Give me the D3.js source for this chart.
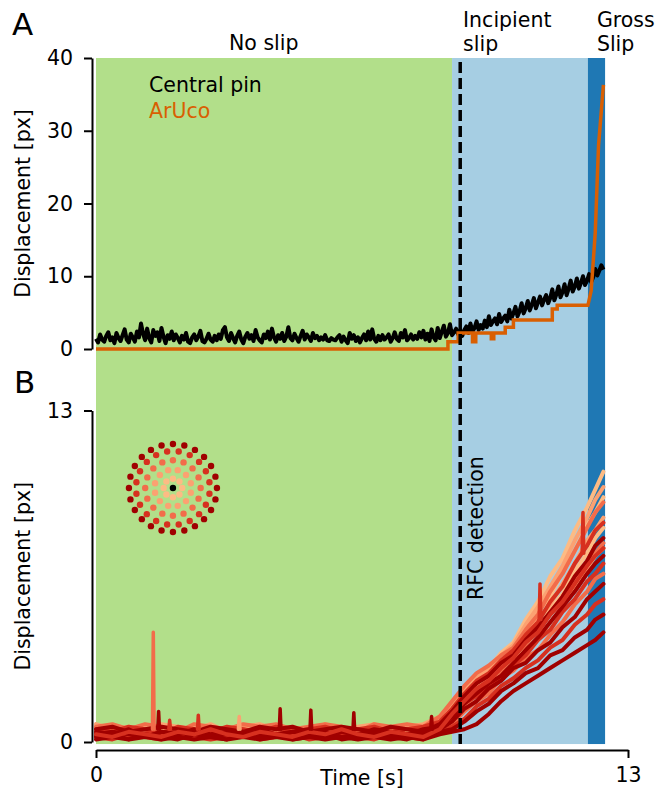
<!DOCTYPE html>
<html>
<head>
<meta charset="utf-8">
<script src="https://cdn.jsdelivr.net/npm/d3@7"></script>
<style>
  body { margin: 0; background: #fff; }
  text { font-family: "DejaVu Sans", sans-serif; }
</style>
</head>
<body>
<script>
// ---- data ----
// slip phases (seconds)
var phaseStart = [0, 8.7, 12.02];
var phaseEnd = [8.7, 12.02, 12.44];
var phaseLabel = [["No slip"], ["Incipient", "slip"], ["Gross", "Slip"]];
var phaseLabelT = [4.1, 8.97, 12.24];
var rfcTime = 8.9;

// panel A: central pin, sampled every 0.05 s
var pinStep = 0.05;
var centralPin = [
  1.4, 0.9, 2.0, 1.3, 1.0, 1.8, 2.3, 1.2, 1.6, 0.8, 2.2, 1.5, 1.1, 1.9, 2.7, 1.3, 0.9, 2.1, 1.6, 1.0,
  2.4, 1.6, 3.5, 2.1, 1.2, 2.8, 1.5, 0.9, 2.6, 1.8, 2.3, 1.1, 2.9, 1.7, 0.8, 1.9, 1.4, 2.4, 1.2, 2.0,
  1.5, 0.9, 1.8, 1.3, 2.2, 1.0, 0.8, 1.6, 2.0, 1.2, 1.7, 2.5, 1.1, 0.9, 1.4, 2.1, 1.3, 1.0, 1.8, 1.2,
  2.0, 1.4, 2.6, 3.0, 1.6, 1.1, 2.2, 1.5, 0.9, 1.8, 2.4, 1.3, 0.8, 1.7, 2.2, 1.4, 1.9, 1.1, 2.6, 1.6,
  1.2, 0.9, 2.0, 1.5, 2.4, 1.3, 2.8, 1.6, 1.0, 1.9, 1.4, 2.2, 1.1, 1.7, 3.0, 1.5, 1.2, 2.1, 1.5, 1.0,
  1.8, 2.5, 1.3, 2.0, 1.6, 1.1, 2.2, 1.5, 1.8, 1.2, 1.6, 1.3, 1.9, 1.2, 1.1, 1.5, 1.3, 1.2, 1.6, 1.9,
  1.0, 1.7, 1.2, 0.8, 2.2, 1.4, 1.9, 1.1, 1.6, 0.9, 1.5, 2.0, 1.2, 2.4, 1.3, 2.7, 1.4, 1.0, 1.8, 1.2,
  1.9, 1.3, 1.6, 2.0, 1.0, 1.5, 2.3, 1.4, 1.1, 2.2, 1.6, 2.6, 1.2, 1.5, 2.0, 1.3, 1.8, 1.4, 2.3, 1.6,
  2.5, 1.3, 2.1, 1.1, 2.7, 1.6, 1.2, 2.9, 1.5, 2.4, 3.2, 1.7, 2.2, 3.4, 1.9, 2.3, 2.8, 2.0, 2.6, 1.8,
  2.6, 3.1, 2.2, 3.5, 2.4, 2.9, 3.8, 2.6, 3.3, 2.8, 3.9, 3.0, 4.5, 3.3, 3.8, 4.2, 3.4, 4.8, 3.7, 4.2,
  4.6, 3.8, 5.4, 4.2, 4.9, 5.8, 4.5, 5.2, 6.3, 4.9, 5.6, 6.6, 5.3, 6.1, 7.0, 5.6, 6.4, 7.2, 6.0, 6.8,
  7.4, 6.3, 7.0, 8.2, 6.7, 7.5, 8.6, 7.1, 7.8, 8.9, 7.4, 8.3, 9.4, 7.9, 8.6, 9.7, 8.3, 9.1, 10.0, 8.8,
  9.4, 10.3, 9.2, 9.9, 11.0, 10.1, 10.8, 11.5, 10.9
];
// panel A: ArUco marker (time, displacement)
var arucoT = [0, 8.6, 8.6, 8.85, 8.85, 9.2, 9.2, 9.28, 9.28, 9.66, 9.66, 9.72, 9.72,
  10.0, 10.0, 10.2, 10.2, 11.15, 11.15, 11.27, 11.27, 12.02, 12.1, 12.2, 12.28, 12.4];
var arucoV = [0, 0, 1.0, 1.0, 2.2, 2.2, 1.0, 1.0, 2.2, 2.2, 1.4, 1.4, 2.2,
  2.2, 3.0, 3.0, 4.0, 4.0, 5.5, 5.5, 6.0, 6.0, 8.0, 16.0, 28.0, 36.3];

// panel B: pin traces, baseline + slip part
var tBase = [0, 0.4, 0.8, 1.2, 1.6, 2.0, 2.4, 2.8, 3.2, 3.6, 4.0, 4.4, 4.8, 5.2, 5.6, 6.0, 6.4, 6.8, 7.2, 7.6, 8.0, 8.4];
var tRise = [8.7, 9.0, 9.3, 9.6, 9.9, 10.2, 10.5, 10.8, 11.1, 11.4, 11.7, 12.0, 12.2, 12.4];
var traceRing = [0, 0, 0, 1, 1, 1, 2, 2, 2, 3, 3, 3, 4, 4, 4, 4, 4, 3];
var traceBase = [
  [.5, .3, .6, .4, .2, .5, .3, .6, .4, .3, .5, .2, .4, .6, .3, .5, .4, .2, .5, .3, .6, .9],
  [.3, .6, .2, .5, .4, .2, .6, .3, .5, .2, .4, .6, .3, .2, .5, .4, .2, .6, .3, .5, .4, .7],
  [.6, .4, .3, .6, .2, .4, .5, .2, .6, .4, .2, .5, .3, .6, .2, .4, .5, .3, .2, .6, .3, .6],
  [.7, .5, .6, .4, .7, .6, .5, .7, .4, .6, .7, .5, .6, .4, .7, .5, .6, .7, .5, .6, .7, 1.0],
  [.4, .2, .5, .3, .6, .3, .2, .5, .4, .3, .6, .4, .2, .5, .3, .6, .3, .4, .6, .2, .5, .8],
  [.2, .4, .3, .2, .5, .4, .3, .2, .5, .3, .2, .4, .5, .3, .2, .4, .3, .5, .2, .4, .3, .5],
  [.6, .7, .5, .7, .6, .4, .7, .6, .5, .7, .6, .7, .5, .6, .7, .6, .4, .7, .6, .7, .6, 1.0],
  [.3, .5, .4, .2, .3, .5, .4, .3, .2, .5, .3, .4, .5, .2, .4, .3, .5, .2, .4, .3, .5, .6],
  [.2, .3, .2, .4, .3, .2, .4, .3, .2, .3, .4, .2, .3, .4, .2, .3, .2, .4, .3, .2, .4, .5],
  [.5, .4, .6, .5, .3, .6, .5, .4, .6, .5, .4, .6, .4, .5, .6, .4, .5, .6, .4, .5, .6, .8],
  [.3, .4, .2, .3, .4, .3, .2, .4, .3, .2, .4, .3, .4, .2, .3, .4, .2, .3, .4, .3, .2, .6],
  [.2, .1, .3, .2, .1, .3, .2, .1, .2, .3, .1, .2, .3, .1, .2, .3, .2, .1, .3, .2, .1, .4],
  [.5, .6, .4, .5, .6, .5, .4, .6, .5, .4, .6, .5, .6, .4, .5, .6, .5, .4, .6, .5, .4, .7],
  [.3, .4, .3, .2, .4, .3, .4, .2, .3, .4, .3, .2, .4, .3, .4, .2, .3, .4, .3, .2, .4, .5],
  [.2, .3, .1, .3, .2, .1, .3, .2, .1, .3, .2, .3, .1, .2, .3, .1, .2, .3, .2, .1, .3, .4],
  [.1, .2, .1, .2, .1, .2, .1, .2, .1, .2, .1, .2, .1, .2, .1, .2, .1, .2, .1, .2, .1, .3],
  [.4, .3, .5, .2, .4, .3, .5, .3, .4, .2, .5, .3, .4, .5, .2, .4, .3, .5, .4, .3, .5, .6],
  [.3, .2, .4, .3, .2, .4, .3, .5, .3, .2, .4, .3, .2, .4, .3, .5, .3, .2, .4, .3, .2, .5]
];
var traceRise = [
  [1.4, 2.0, 2.6, 2.9, 3.5, 3.9, 4.8, 5.5, 6.5, 7.2, 8.3, 9.2, 9.9, 10.6],
  [1.1, 1.8, 2.2, 2.8, 3.0, 3.7, 4.2, 5.1, 5.7, 6.7, 7.5, 8.5, 9.0, 9.6],
  [0.9, 1.5, 2.0, 2.3, 2.9, 3.2, 3.8, 4.4, 5.2, 5.8, 6.7, 7.4, 8.0, 8.4],
  [1.5, 2.1, 2.5, 2.9, 3.4, 3.8, 4.6, 5.3, 6.1, 6.9, 7.9, 8.8, 9.5, 10.0],
  [1.2, 1.9, 2.3, 2.7, 3.1, 3.6, 4.0, 4.8, 5.4, 6.2, 7.0, 7.9, 8.3, 8.8],
  [0.8, 1.3, 1.9, 2.2, 2.7, 3.0, 3.6, 4.0, 4.7, 5.3, 6.1, 6.8, 7.3, 7.6],
  [1.6, 2.2, 2.7, 3.0, 3.4, 3.7, 4.4, 5.0, 5.9, 6.6, 7.5, 8.4, 9.0, 9.4],
  [1.0, 1.7, 2.0, 2.5, 2.8, 3.4, 3.8, 4.5, 5.0, 5.7, 6.3, 7.1, 7.4, 7.8],
  [0.7, 1.2, 1.6, 1.9, 2.5, 2.8, 3.3, 3.6, 4.2, 4.7, 5.4, 5.9, 6.4, 6.6],
  [1.3, 1.9, 2.4, 2.7, 3.2, 3.6, 4.2, 4.7, 5.5, 6.1, 7.0, 7.7, 8.3, 8.6],
  [0.9, 1.5, 1.8, 2.2, 2.5, 3.0, 3.4, 4.0, 4.4, 5.1, 5.6, 6.3, 6.6, 7.0],
  [0.6, 0.9, 1.4, 1.7, 2.2, 2.5, 2.9, 3.2, 3.7, 4.0, 4.6, 5.0, 5.4, 5.6],
  [1.2, 1.8, 2.3, 2.6, 3.1, 3.4, 4.0, 4.5, 5.1, 5.7, 6.5, 7.1, 7.7, 8.0],
  [0.8, 1.3, 1.6, 2.1, 2.4, 2.9, 3.1, 3.6, 3.9, 4.5, 4.9, 5.6, 5.9, 6.2],
  [0.5, 0.8, 1.2, 1.5, 2.0, 2.3, 2.7, 2.9, 3.4, 3.6, 4.1, 4.4, 4.8, 5.0],
  [0.4, 0.5, 0.7, 1.1, 1.6, 2.0, 2.3, 2.6, 2.9, 3.2, 3.5, 3.8, 4.0, 4.3],
  [1.0, 1.5, 1.9, 2.3, 2.6, 3.1, 3.6, 4.1, 4.7, 5.3, 5.9, 6.6, 7.0, 7.3],
  [1.1, 1.6, 2.1, 2.4, 2.9, 3.3, 3.9, 4.3, 5.0, 5.5, 6.2, 6.9, 7.3, 7.6]
];
// single-frame spikes: time, base, peak, ring
var spikeT = [1.4, 1.53, 1.8, 2.5, 3.5, 4.5, 5.25, 6.3, 8.2, 10.85, 11.9];
var spikeBase = [0.5, 0.5, 0.5, 0.5, 0.5, 0.5, 0.5, 0.5, 0.5, 4.8, 7.4];
var spikePeak = [4.3, 1.2, 0.85, 1.05, 1.0, 1.3, 1.25, 1.15, 1.0, 6.2, 9.0];
var spikeRing = [2, 4, 3, 3, 1, 4, 4, 4, 4, 3, 3];

// sensor pin layout: rings (relative radius, pin count)
var pinRingR = [0.21, 0.42, 0.63, 0.84, 1.0];
var pinRingN = [8, 12, 16, 20, 24];

var ringColor = ["#fdbb84", "#fca171", "#f26c4a", "#d7301f", "#a00000"];

// ---- layout ----
var width = 671, height = 793;
var svg = d3.select("body").append("svg")
  .attr("width", width)
  .attr("height", height);

var x = d3.scaleLinear().domain([0, 13]).range([96, 628]);
var yA = d3.scaleLinear().domain([0, 40]).range([349, 58]);
var yB = d3.scaleLinear().domain([0, 13]).range([742, 410.5]);
var bgBottom = yB(-0.08);
var fontSize = "20.5px";

// phase backgrounds span both panels
var phaseColor = ["#b2df8a", "#a6cee3", "#1f78b4"];
svg.selectAll("rect.phase")
  .data(phaseStart)
  .enter().append("rect")
  .attr("class", "phase")
  .attr("x", function (d) { return x(d); })
  .attr("y", yA(40))
  .attr("width", function (d, i) { return x(phaseEnd[i]) - x(d); })
  .attr("height", bgBottom - yA(40))
  .attr("fill", function (d, i) { return phaseColor[i]; });

// phase labels
phaseLabel.forEach(function (lines, i) {
  var t = svg.append("text")
    .attr("x", x(phaseLabelT[i]))
    .attr("text-anchor", i === 0 ? "middle" : "start")
    .style("font-size", fontSize);
  lines.forEach(function (s, j) {
    t.append("tspan")
      .attr("x", x(phaseLabelT[i]))
      .attr("y", lines.length === 1 ? 50 : 27 + j * 24)
      .text(s);
  });
});

// panel B traces
var lineB = d3.line()
  .x(function (d) { return x(d[0]); })
  .y(function (d) { return yB(d[1]); });

traceBase.forEach(function (base, i) {
  var pts = tBase.map(function (t, k) { return [t, base[k]]; })
    .concat(tRise.map(function (t, k) { return [t, traceRise[i][k]]; }));
  svg.append("path")
    .attr("d", lineB(pts))
    .attr("fill", "none")
    .attr("stroke", ringColor[traceRing[i]])
    .attr("stroke-width", 4)
    .attr("stroke-linejoin", "round")
    .attr("stroke-linecap", "round");
});

spikeT.forEach(function (t, i) {
  svg.append("path")
    .attr("d", lineB([[t - 0.02, spikeBase[i]], [t, spikePeak[i]], [t + 0.02, spikeBase[i]]]))
    .attr("fill", "none")
    .attr("stroke", ringColor[spikeRing[i]])
    .attr("stroke-width", 3.5)
    .attr("stroke-linejoin", "round")
    .attr("stroke-linecap", "round");
});

// panel A lines
var lineA = d3.line()
  .x(function (d) { return x(d[0]); })
  .y(function (d) { return yA(d[1]); });

svg.append("path")
  .attr("d", lineA(centralPin.map(function (v, k) { return [k * pinStep, v]; })))
  .attr("fill", "none")
  .attr("stroke", "#000")
  .attr("stroke-width", 4)
  .attr("stroke-linejoin", "round");

svg.append("path")
  .attr("d", lineA(arucoT.map(function (t, k) { return [t, arucoV[k]]; })))
  .attr("fill", "none")
  .attr("stroke", "#d95f02")
  .attr("stroke-width", 3.5);

// RFC detection line
svg.append("line")
  .attr("x1", x(rfcTime)).attr("x2", x(rfcTime))
  .attr("y1", yA(40) + 4).attr("y2", bgBottom)
  .attr("stroke", "#000")
  .attr("stroke-width", 3.5)
  .attr("stroke-dasharray", "11,5");

svg.append("text")
  .attr("transform", "translate(" + (x(rfcTime) + 23) + "," + 600 + ") rotate(-90)")
  .style("font-size", fontSize)
  .text("RFC detection");

// legend
svg.append("text").attr("x", 149).attr("y", 92)
  .style("font-size", fontSize).attr("fill", "#000").text("Central pin");
svg.append("text").attr("x", 149).attr("y", 118)
  .style("font-size", fontSize).attr("fill", "#d95f02").text("ArUco");

// pin layout inset
var insetCx = x(1.88), insetCy = yB(9.96);
var insetR = d3.scaleLinear().domain([0, 1]).range([0, 44]);
var inset = svg.append("g").attr("transform", "translate(" + insetCx + "," + insetCy + ")");
pinRingR.forEach(function (r, i) {
  var n = pinRingN[i];
  inset.selectAll(null)
    .data(d3.range(n))
    .enter().append("circle")
    .attr("cx", function (k) { return insetR(r) * Math.cos(2 * Math.PI * (k + 0.5 * (i % 2)) / n - Math.PI / 2); })
    .attr("cy", function (k) { return insetR(r) * Math.sin(2 * Math.PI * (k + 0.5 * (i % 2)) / n - Math.PI / 2); })
    .attr("r", 3.2)
    .attr("fill", ringColor[i]);
});
inset.append("circle").attr("r", 3.2).attr("fill", "#000");

// axes
function styleAxis(g) {
  g.selectAll("path.domain").attr("stroke-width", 2);
  g.selectAll(".tick line").attr("stroke-width", 2);
  g.selectAll(".tick text").style("font-size", fontSize).style("font-family", "DejaVu Sans");
}

svg.append("g")
  .attr("transform", "translate(92,0)")
  .call(d3.axisLeft(yA).tickValues([0, 10, 20, 30, 40]).tickSize(8).tickSizeOuter(0).tickPadding(11))
  .call(styleAxis);

svg.append("g")
  .attr("transform", "translate(92,0)")
  .call(d3.axisLeft(yB).tickValues([0, 13]).tickSize(8).tickSizeOuter(0).tickPadding(11))
  .call(styleAxis);

svg.append("g")
  .attr("transform", "translate(0,750)")
  .call(d3.axisBottom(x).tickValues([0, 13]).tickSize(8).tickSizeOuter(0).tickPadding(9))
  .call(styleAxis);

// axis labels
svg.append("text")
  .attr("transform", "translate(30," + (yA(20)) + ") rotate(-90)")
  .attr("text-anchor", "middle")
  .style("font-size", fontSize)
  .text("Displacement [px]");

svg.append("text")
  .attr("transform", "translate(30," + (yB(6.5)) + ") rotate(-90)")
  .attr("text-anchor", "middle")
  .style("font-size", fontSize)
  .text("Displacement [px]");

svg.append("text")
  .attr("x", x(6.5)).attr("y", 785)
  .attr("text-anchor", "middle")
  .style("font-size", fontSize)
  .text("Time [s]");

// panel letters
svg.append("text").attr("x", 12).attr("y", 35).style("font-size", "31px").text("A");
svg.append("text").attr("x", 14).attr("y", 393).style("font-size", "31px").text("B");
</script>
</body>
</html>
